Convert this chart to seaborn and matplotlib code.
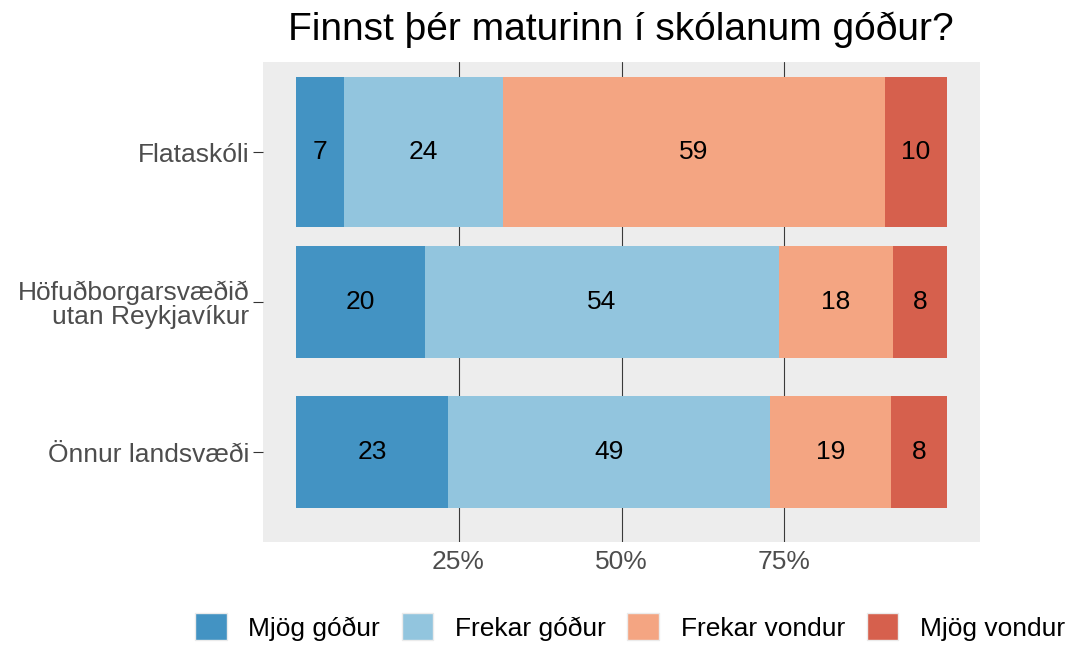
import numpy as np
import pandas as pd
import matplotlib
matplotlib.use("Agg")
import matplotlib.pyplot as plt
import seaborn as sns
from matplotlib.patches import Patch

# Gögn (hlutfall svara, %)
skolar = ["Flataskóli", "Höfuðborgarsvæðið\nutan Reykjavíkur", "Önnur landsvæði"]
svor = ["Mjög góður", "Frekar góður", "Frekar vondur", "Mjög vondur"]
mjog_godur = [7.4, 19.9, 23.4]
frekar_godur = [24.4, 54.2, 49.4]
frekar_vondur = [58.6, 17.5, 18.6]
mjog_vondur = [9.6, 8.4, 8.6]
merki = [[7, 24, 59, 10], [20, 54, 18, 8], [23, 49, 19, 8]]

litir = ["#4393C3", "#92C5DE", "#F4A582", "#D6604D"]
haed = [1.0, 0.75, 0.75]

df = pd.DataFrame({"skoli": skolar, svor[0]: mjog_godur, svor[1]: frekar_godur,
                   svor[2]: frekar_vondur, svor[3]: mjog_vondur})

sns.set_theme(style="darkgrid")
plt.rcParams["font.family"] = ["Liberation Sans", "DejaVu Sans"]

fig = plt.figure(figsize=(10.72, 6.45), dpi=100)
ax = fig.add_axes([263 / 1072, 1 - 542 / 645, (980 - 263) / 1072, (542 - 62) / 645])
ax.set_facecolor("#EDEDED")

ypos = np.arange(len(skolar))
vinstri = np.zeros(len(skolar))
for i, s in enumerate(svor):
    vals = df[s].values / 100
    ax.barh(ypos, vals, left=vinstri, height=haed, color=litir[i], linewidth=0, zorder=2)
    for j in range(len(skolar)):
        ax.text(vinstri[j] + vals[j] / 2, ypos[j], str(merki[j][i]),
                ha="center", va="center", fontsize=19, color="black", zorder=3)
    vinstri += vals

ax.set_xlim(-0.05, 1.05)
ax.set_ylim(2.6, -0.6)
ax.set_xticks([0.25, 0.5, 0.75])
ax.set_xticklabels(["25%", "50%", "75%"], fontsize=19, color="#4D4D4D")
ax.set_yticks(ypos)
ax.set_yticklabels(skolar, fontsize=19, color="#4D4D4D", linespacing=1.0)
ax.grid(axis="x", color="#3A3A3A", linewidth=0.8, zorder=1)
ax.grid(axis="y", visible=False)
ax.set_axisbelow(True)
ax.tick_params(axis="x", length=0, pad=6)
ax.tick_params(axis="y", length=7, width=0.8, color="#333333", pad=3, left=True)
for sp in ax.spines.values():
    sp.set_visible(False)
ax.set_xlabel("")
ax.set_ylabel("")

fig.text(621 / 1072, 1 - 30 / 645, "Finnst þér maturinn í skólanum góður?",
         ha="center", va="center", fontsize=28, color="black")

handles = [Patch(facecolor=c, edgecolor="#EBEBEB", linewidth=1.0) for c in litir]
leg = fig.legend(handles, svor, loc="center", bbox_to_anchor=(630 / 1072, 1 - 627 / 645),
                 ncol=4, frameon=False, fontsize=19, handlelength=1.2, handleheight=1.2,
                 handletextpad=0.82, columnspacing=0.82, borderpad=0)
for t in leg.get_texts():
    t.set_color("black")

fig.savefig("out.png", dpi=100)
